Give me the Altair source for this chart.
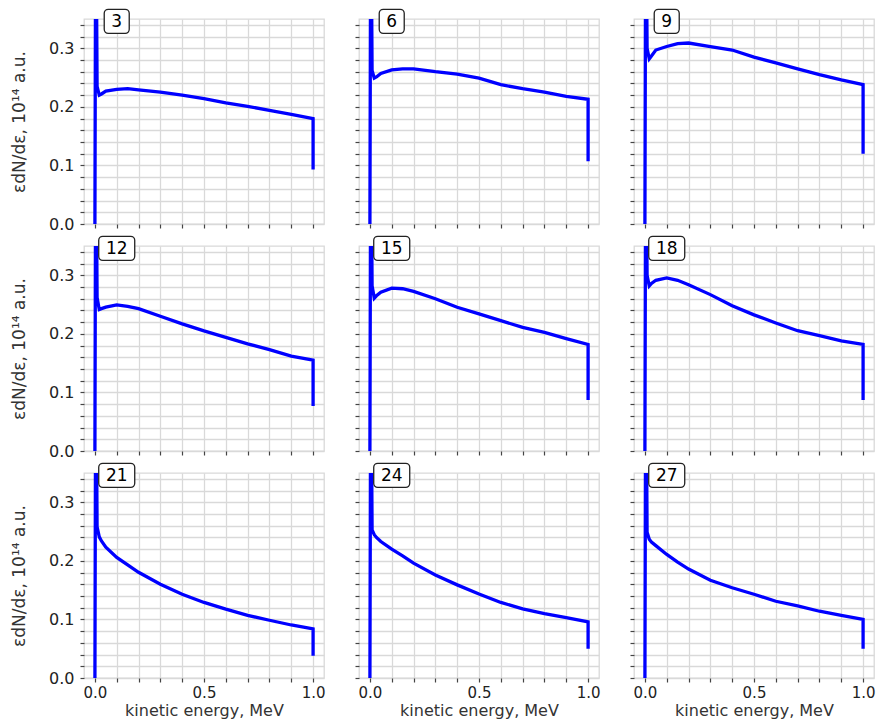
import altair as alt
import pandas as pd

energy = [0.0, 0.004, 0.01, 0.02, 0.03, 0.05, 0.1, 0.15, 0.2, 0.3, 0.4, 0.5,
          0.6, 0.7, 0.8, 0.9, 1.0, 1.0]

panel_labels = ["3", "6", "9", "12", "15", "18", "21", "24", "27"]

s3 = [0.0, 0.6, 0.235, 0.220, 0.222, 0.227, 0.230, 0.231, 0.229, 0.225, 0.220, 0.214,
      0.207, 0.201, 0.194, 0.187, 0.180, 0.093]
s6 = [0.0, 0.6, 0.262, 0.249, 0.251, 0.257, 0.263, 0.265, 0.265, 0.260, 0.256, 0.249,
      0.238, 0.231, 0.225, 0.218, 0.213, 0.107]
s9 = [0.0, 0.6, 0.300, 0.282, 0.287, 0.297, 0.303, 0.308, 0.309, 0.303, 0.297, 0.285,
      0.275, 0.265, 0.255, 0.246, 0.238, 0.120]
s12 = [0.0, 0.6, 0.262, 0.2415, 0.243, 0.2455, 0.2496, 0.247, 0.243, 0.230, 0.217, 0.205,
       0.194, 0.183, 0.173, 0.162, 0.155, 0.077]
s15 = [0.0, 0.6, 0.282, 0.261, 0.265, 0.271, 0.278, 0.277, 0.2725, 0.260, 0.2455, 0.234,
       0.2226, 0.211, 0.2025, 0.192, 0.182, 0.087]
s18 = [0.0, 0.6, 0.300, 0.2817, 0.286, 0.2915, 0.2955, 0.2915, 0.284, 0.267, 0.248, 0.2324,
       0.2186, 0.2054, 0.197, 0.188, 0.182, 0.087]
s21 = [0.0, 0.6, 0.258, 0.241, 0.234, 0.2235, 0.206, 0.193, 0.1805, 0.160, 0.143, 0.129,
       0.1175, 0.107, 0.0986, 0.0905, 0.084, 0.038]
s24 = [0.0, 0.6, 0.253, 0.2446, 0.240, 0.233, 0.220, 0.2086, 0.196, 0.176, 0.159, 0.1434,
       0.129, 0.118, 0.110, 0.103, 0.096, 0.050]
s27 = [0.0, 0.6, 0.249, 0.237, 0.232, 0.226, 0.211, 0.198, 0.186, 0.167, 0.154, 0.143,
       0.131, 0.123, 0.114, 0.107, 0.100, 0.050]

series = [s3, s6, s9, s12, s15, s18, s21, s24, s27]

x_ticks = [0.0, 0.1, 0.2, 0.3, 0.4, 0.5, 0.6, 0.7, 0.8, 0.9, 1.0]
y_ticks = [0.0, 0.02, 0.04, 0.06, 0.08, 0.1, 0.12, 0.14, 0.16, 0.18, 0.2, 0.22,
           0.24, 0.26, 0.28, 0.3, 0.32, 0.34]

label_x = 0.1
label_y = 0.346

XDOM = [-0.05, 1.05]
YDOM = [0.0, 0.35]
W, H = 240, 205

panels = []
for k, (lab, vals) in enumerate(zip(panel_labels, series)):
    row, col = divmod(k, 3)
    df = pd.DataFrame({"e": energy, "v": vals, "i": list(range(len(energy)))})
    xaxis = alt.Axis(
        values=x_ticks, tickCount=200, labelOverlap=False,
        labels=(row == 2),
        labelExpr="abs(datum.value*2 - round(datum.value*2)) < 0.001 ? format(datum.value, '.1f') : ''",
        title="kinetic energy, MeV" if row == 2 else None,
    )
    yaxis = alt.Axis(
        values=y_ticks, tickCount=200, labelOverlap=False,
        labels=(col == 0),
        labelExpr="abs(datum.value*10 - round(datum.value*10)) < 0.001 ? format(datum.value, '.1f') : ''",
        title="εdN/dε, 10¹⁴ a.u." if col == 0 else None,
    )
    xs = alt.Scale(domain=XDOM, nice=False, zero=False)
    ys = alt.Scale(domain=YDOM, nice=False, zero=False)
    line = alt.Chart(df).mark_line(color="#0000ff", strokeWidth=3.3, clip=True).encode(
        x=alt.X("e:Q", scale=xs, axis=xaxis),
        y=alt.Y("v:Q", scale=ys, axis=yaxis),
        order=alt.Order("i:Q"),
    )
    ldf = pd.DataFrame({"lx": [label_x], "ly": [label_y], "t": [lab]})
    bw = 14 + 11 * len(lab)
    box = alt.Chart(ldf).mark_rect(
        width=bw, height=24, cornerRadius=4, fill="white", stroke="#222",
        strokeWidth=1.3, clip=False
    ).encode(x=alt.X("lx:Q", scale=xs), y=alt.Y("ly:Q", scale=ys))
    txt = alt.Chart(ldf).mark_text(
        fontSize=17, font="DejaVu Sans", color="black", align="center",
        baseline="middle", dy=1, clip=False
    ).encode(x=alt.X("lx:Q", scale=xs), y=alt.Y("ly:Q", scale=ys), text="t:N")
    panels.append(alt.layer(line, box, txt).properties(width=W, height=H))

chart = alt.concat(
    *panels, columns=3, spacing={"row": 22, "column": 35}, bounds="flush"
).properties(
    padding={"left": 1, "top": 0, "right": 0, "bottom": 0},
    background="white",
).configure_view(
    stroke="#d9d9d9", strokeWidth=1.3
).configure_axis(
    grid=True, gridColor="#d9d9d9", gridWidth=1.3,
    domain=False, tickColor="#444", tickSize=4, tickWidth=1.2,
    labelFont="DejaVu Sans", labelColor="#222",
    titleFont="DejaVu Sans", titleColor="#333",
    titleFontWeight="normal",
).configure_axisY(
    labelFontSize=16, labelPadding=6, titlePadding=20, titleFontSize=17
).configure_axisX(
    labelFontSize=15, labelPadding=3, titlePadding=2, titleFontSize=16
)

chart.save("out.html", embed_options={"renderer": "svg", "actions": False})
